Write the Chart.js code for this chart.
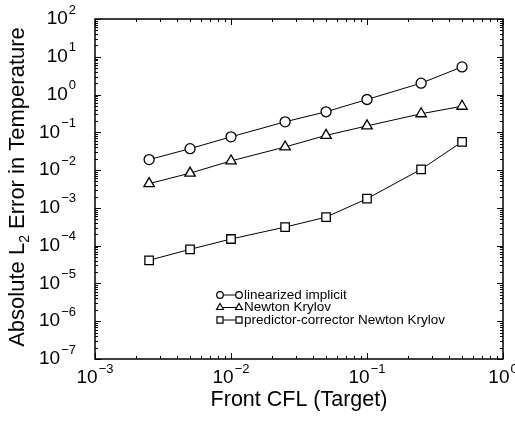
<!DOCTYPE html>
<html>
<head>
<meta charset="utf-8">
<script src="https://cdn.jsdelivr.net/npm/chart.js@4/dist/chart.umd.min.js"></script>
<style>
html, body { margin: 0; padding: 0; background: #fff; }
</style>
</head>
<body>
<canvas id="cflChart" width="515" height="423"></canvas>
<script>
// values (log-log)
var cfl = [0.0025, 0.005, 0.01, 0.025, 0.05, 0.1, 0.25, 0.5];
var linearizedImplicit = [0.019, 0.037, 0.076, 0.19, 0.35, 0.74, 2.0, 5.4];
var newtonKrylov = [0.0044, 0.0083, 0.0175, 0.041, 0.083, 0.148, 0.31, 0.49];
var pcNewtonKrylov = [4.1e-5, 8.0e-5, 1.5e-4, 3.1e-4, 5.7e-4, 1.75e-3, 0.0105, 0.056];
var seriesNames = ['linearized implicit', 'Newton Krylov', 'predictor-corrector Newton Krylov'];
var xExponents = [-3, -2, -1, 0];
var yExponents = [-7, -6, -5, -4, -3, -2, -1, 0, 1, 2];

var FONT = '"Liberation Sans", Arial, Helvetica, sans-serif';

function toPoints(ys) {
    return cfl.map(function(x, i) { return { x: x, y: ys[i] }; });
}

function makeSet(label, ys, style, r) {
    return {
        label: label,
        data: toPoints(ys),
        borderColor: '#000',
        borderWidth: 1,
        pointStyle: style,
        pointRadius: r,
        pointBorderWidth: 1.3,
        pointBorderColor: '#000',
        pointBackgroundColor: '#fff',
        fill: false,
        tension: 0
    };
}

function powLabel(ctx, exp, x, y, align) {
    var base = '10';
    var sup = exp < 0 ? '\u2212' + Math.abs(exp) : String(exp);
    ctx.font = '19px ' + FONT;
    var wb = ctx.measureText(base).width;
    ctx.font = '13px ' + FONT;
    var ws = ctx.measureText(sup).width + 1;
    var x0 = align === 'right' ? x - wb - ws : x - (wb + ws) / 2;
    ctx.textAlign = 'left';
    ctx.textBaseline = 'middle';
    ctx.font = '19px ' + FONT;
    ctx.fillText(base, x0, y);
    ctx.font = '13px ' + FONT;
    ctx.fillText(sup, x0 + wb + 1, y - 9);
}

var framePlugin = {
    id: 'frame',
    afterDraw: function(chart) {
        var ctx = chart.ctx;
        var a = chart.chartArea;
        var xs = chart.scales.x, ys = chart.scales.y;
        ctx.save();
        ctx.strokeStyle = '#000';
        ctx.fillStyle = '#000';

        // ticks, inward on all four sides
        ctx.lineWidth = 1;
        ctx.beginPath();
        xExponents.forEach(function(e, i) {
            for (var k = 1; k <= 9; k++) {
                if (i === xExponents.length - 1 && k > 1) break;
                var px = Math.round(xs.getPixelForValue(k * Math.pow(10, e))) + 0.5;
                var len = k === 1 ? 6 : 3;
                ctx.moveTo(px, a.bottom); ctx.lineTo(px, a.bottom - len);
                ctx.moveTo(px, a.top); ctx.lineTo(px, a.top + len);
            }
        });
        yExponents.forEach(function(e, i) {
            for (var k = 1; k <= 9; k++) {
                if (i === yExponents.length - 1 && k > 1) break;
                var py = Math.round(ys.getPixelForValue(k * Math.pow(10, e))) + 0.5;
                var len = k === 1 ? 6 : 3;
                ctx.moveTo(a.left, py); ctx.lineTo(a.left + len, py);
                ctx.moveTo(a.right, py); ctx.lineTo(a.right - len, py);
            }
        });
        ctx.stroke();

        // frame
        ctx.lineWidth = 1.5;
        ctx.strokeRect(a.left, a.top, a.right - a.left, a.bottom - a.top);

        // tick labels
        yExponents.forEach(function(e) {
            powLabel(ctx, e, 76, ys.getPixelForValue(Math.pow(10, e)), 'right');
        });
        xExponents.forEach(function(e) {
            powLabel(ctx, e, xs.getPixelForValue(Math.pow(10, e)), a.bottom + 19, 'center');
        });

        // axis titles
        ctx.font = '21.5px ' + FONT;
        ctx.textAlign = 'center';
        ctx.textBaseline = 'middle';
        ctx.fillText('Front CFL (Target)', (a.left + a.right) / 2, 400);

        var p1 = 'Absolute L', sub = '2', p2 = ' Error in Temperature';
        ctx.font = '22px ' + FONT;
        var w1 = ctx.measureText(p1).width, w2 = ctx.measureText(p2).width;
        ctx.font = '14px ' + FONT;
        var ws = ctx.measureText(sub).width;
        var total = w1 + ws + w2;
        ctx.translate(18, (a.top + a.bottom) / 2 - 2);
        ctx.rotate(-Math.PI / 2);
        ctx.textAlign = 'left';
        ctx.textBaseline = 'middle';
        ctx.font = '22px ' + FONT;
        ctx.fillText(p1, -total / 2, 0);
        ctx.font = '14px ' + FONT;
        ctx.fillText(sub, -total / 2 + w1, 7);
        ctx.font = '22px ' + FONT;
        ctx.fillText(p2, -total / 2 + w1 + ws, 0);
        ctx.restore();

        // legend inside the plot
        ctx.save();
        var styles = [['circle', 3.3], ['triangle', 4], ['rect', 4.3]];
        chart.data.datasets.forEach(function(ds, i) {
            var y = 295 + i * 12.5;
            ctx.strokeStyle = '#000';
            ctx.lineWidth = 1;
            ctx.beginPath();
            ctx.moveTo(220, y); ctx.lineTo(239, y);
            ctx.stroke();
            ctx.fillStyle = '#fff';
            ctx.lineWidth = 1.2;
            [220, 239].forEach(function(px) {
                Chart.helpers.drawPoint(ctx, { pointStyle: styles[i][0], radius: styles[i][1], rotation: 0, borderWidth: 1.2 }, px, y);
            });
            ctx.fillStyle = '#000';
            ctx.font = '13.5px ' + FONT;
            ctx.textAlign = 'left';
            ctx.textBaseline = 'middle';
            ctx.fillText(ds.label, 244, y);
        });
        ctx.restore();
    }
};

var ctx = document.getElementById('cflChart');
new Chart(ctx, {
    type: 'line',
    data: {
        datasets: [
            makeSet(seriesNames[0], linearizedImplicit, 'circle', 5),
            makeSet(seriesNames[1], newtonKrylov, 'triangle', 6),
            makeSet(seriesNames[2], pcNewtonKrylov, 'rect', 6)
        ]
    },
    options: {
        responsive: false,
        animation: false,
        layout: { padding: { top: 19, right: 12, left: 0, bottom: 0 } },
        plugins: { legend: { display: false }, tooltip: { enabled: false } },
        scales: {
            x: {
                type: 'logarithmic',
                min: 1e-3, max: 1,
                grid: { display: false },
                border: { display: false },
                ticks: { display: false },
                afterFit: function(s) { s.height = 64; }
            },
            y: {
                type: 'logarithmic',
                min: 1e-7, max: 100,
                grid: { display: false },
                border: { display: false },
                ticks: { display: false },
                afterFit: function(s) { s.width = 95; }
            }
        }
    },
    plugins: [framePlugin]
});
</script>
</body>
</html>
